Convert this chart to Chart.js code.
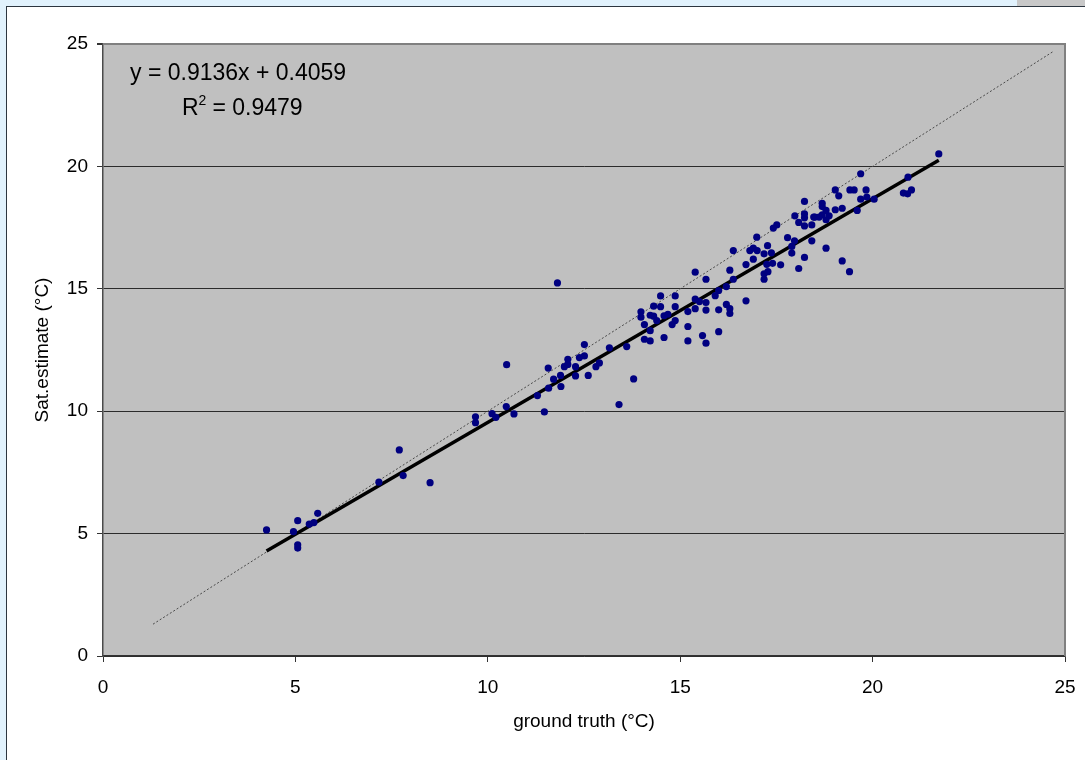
<!DOCTYPE html>
<html>
<head>
<meta charset="utf-8">
<script src="https://cdn.jsdelivr.net/npm/chart.js@4.4.1/dist/chart.umd.min.js"></script>
<style>
  html, body { margin: 0; padding: 0; }
  body { width: 1085px; height: 760px; background: #e1f2fd; position: relative; overflow: hidden; }
  #corner { position: absolute; left: 1017px; top: 0; width: 68px; height: 6px; background: #c8c8c8; }
  #panel { position: absolute; left: 6px; top: 6px; right: 0; bottom: 0; background: #ffffff;
           border-top: 1px solid #2c3640; border-left: 1px solid #2c3640; }
  #wrap { position: absolute; left: 8px; top: 8px; width: 1077px; height: 752px; }
</style>
</head>
<body>
<div id="corner"></div>
<div id="panel"></div>
<div id="wrap"><canvas id="chart"></canvas></div>
<script>
// ground truth vs satellite estimate (°C)
const groundTruth = [
  4.25, 5.06, 4.95, 5.06, 5.06, 5.36, 5.48, 5.58, 7.17, 7.70, 7.80, 8.50, 9.68, 9.68, 10.11, 10.21, 10.49, 10.48, 10.68,
  11.81, 11.47, 11.29, 11.57, 11.58, 11.71, 11.90, 11.89, 11.99, 12.08, 12.08, 12.28, 12.28, 12.38, 12.51, 12.51, 12.61,
  12.81, 12.90, 13.16, 13.41, 13.61, 13.79, 13.98, 13.98, 14.07, 14.07, 14.22, 14.22, 14.22, 14.31, 14.31, 14.39, 14.49,
  14.49, 14.58, 14.58, 14.68, 14.79, 14.87, 14.87, 14.87, 15.20, 15.20, 15.20, 15.39, 15.39, 15.39, 15.50, 15.58, 15.67,
  15.67, 15.67, 15.67, 15.91, 16.00, 16.00, 16.00, 16.20, 16.20, 16.29, 16.29, 16.29, 16.38, 16.38, 16.71, 16.71, 16.81,
  16.90, 16.90, 16.99, 17.00, 17.18, 17.18, 17.18, 17.25, 17.27, 17.28, 17.42, 17.51, 17.37, 17.40, 17.61, 17.79, 17.90,
  17.90, 17.97, 17.98, 18.08, 18.08, 18.23, 18.23, 18.23, 18.23, 18.23, 18.42, 18.42, 18.47, 18.50, 18.61, 18.69, 18.69,
  18.69, 18.79, 18.79, 18.79, 18.87, 19.03, 19.03, 19.12, 19.21, 19.21, 19.40, 19.41, 19.52, 19.60, 19.69, 19.69, 19.83,
  19.85, 20.04, 20.80, 20.91, 20.92, 21.01, 21.72
];
const satEstimate = [
  5.15, 5.53, 5.08, 4.54, 4.41, 5.39, 5.45, 5.83, 7.10, 8.42, 7.37, 7.08, 9.77, 9.53, 9.90, 9.75, 11.90, 10.19, 9.89,
  15.24, 9.97, 10.64, 11.76, 10.94, 11.31, 11.01, 11.46, 11.82, 12.12, 11.91, 11.82, 11.44, 12.19, 12.72, 12.26, 11.46,
  11.82, 11.97, 12.59, 10.27, 12.64, 11.32, 14.06, 13.84, 13.54, 12.94, 12.87, 13.29, 13.92, 14.29, 13.88, 13.70, 14.71,
  14.27, 13.90, 13.01, 13.96, 13.54, 14.71, 14.27, 13.70, 13.46, 14.07, 12.87, 15.68, 14.58, 14.19, 14.48, 13.09, 15.39,
  14.44, 14.13, 12.78, 14.72, 14.14, 13.25, 14.93, 15.09, 14.36, 15.76, 14.19, 13.99, 15.39, 16.56, 14.51, 15.99, 16.56,
  16.21, 16.66, 17.11, 16.56, 16.43, 15.61, 15.39, 16.00, 16.76, 15.70, 17.48, 17.61, 16.47, 16.04, 15.98, 17.09, 16.46,
  16.73, 16.96, 17.98, 15.83, 17.71, 18.57, 18.06, 17.90, 17.57, 16.28, 17.61, 16.96, 17.93, 17.93, 17.93, 18.49, 18.36,
  18.02, 18.20, 17.82, 16.66, 17.98, 18.23, 19.04, 18.80, 18.29, 16.14, 15.70, 19.04, 19.04, 18.20, 18.66, 19.70, 19.04,
  18.75, 18.66, 18.91, 18.88, 19.56, 19.04, 20.51
];

// linear trendline ends and the 1:1 reference line ends
const trendX = [4.25, 21.72];
const trendY = [4.29, 20.25];
const oneToOneX = [1.3, 24.7];
const oneToOneY = [1.3, 24.7];

const axisTicks = [0, 5, 10, 15, 20, 25];
const fitText = "y = 0.9136x + 0.4059";
const r2Text = "= 0.9479";

const FONT = "'Liberation Sans', Arial, sans-serif";

const plotFrame = {
    id: "plotFrame",
    beforeDraw(chart) {
        const { ctx, chartArea: a } = chart;
        ctx.save();
        ctx.fillStyle = "#c0c0c0";
        ctx.fillRect(a.left, a.top, a.right - a.left, a.bottom - a.top);
        ctx.restore();
    },
    afterDraw(chart) {
        const { ctx, chartArea: a } = chart;
        ctx.save();
        ctx.strokeStyle = "#808080";
        ctx.lineWidth = 2;
        ctx.beginPath();
        ctx.moveTo(a.left, a.top);
        ctx.lineTo(a.right, a.top);
        ctx.lineTo(a.right, a.bottom);
        ctx.stroke();

        // regression label
        ctx.fillStyle = "#000";
        ctx.textBaseline = "alphabetic";
        ctx.font = "23px " + FONT;
        ctx.fillText(fitText, a.left + 27, a.top + 36);
        let x = a.left + 79;
        ctx.fillText("R", x, a.top + 71);
        x += ctx.measureText("R").width;
        ctx.font = "14px " + FONT;
        ctx.fillText("2", x, a.top + 61);
        x += ctx.measureText("2").width + 6;
        ctx.font = "23px " + FONT;
        ctx.fillText(r2Text, x, a.top + 71);
        ctx.restore();
    }
};

new Chart(document.getElementById("chart"), {
    type: "scatter",
    data: {
        datasets: [
            {
                label: "1:1",
                type: "line",
                data: oneToOneX.map((x, i) => ({ x, y: oneToOneY[i] })),
                borderColor: "#4a4a4a",
                borderWidth: 1,
                borderDash: [2, 2],
                pointRadius: 0,
                fill: false,
                order: 3
            },
            {
                label: "Linear fit",
                type: "line",
                data: trendX.map((x, i) => ({ x, y: trendY[i] })),
                borderColor: "#000000",
                borderWidth: 3.5,
                pointRadius: 0,
                fill: false,
                order: 2
            },
            {
                label: "Sat.estimate",
                data: groundTruth.map((x, i) => ({ x, y: satEstimate[i] })),
                backgroundColor: "#000080",
                borderColor: "#000080",
                borderWidth: 0,
                pointRadius: 3.6,
                order: 1
            }
        ]
    },
    options: {
        responsive: true,
        maintainAspectRatio: false,
        animation: false,
        layout: { padding: { top: 36, right: 20, left: 0, bottom: 0 } },
        plugins: {
            legend: { display: false },
            tooltip: { enabled: false }
        },
        scales: {
            x: {
                type: "linear",
                min: 0,
                max: 25,
                afterBuildTicks: s => { s.ticks = axisTicks.map(v => ({ value: v })); },
                afterFit: s => { s.height = 104; s.paddingLeft = 0; s.paddingRight = 0; },
                grid: { drawOnChartArea: false, drawTicks: true, tickLength: 6, color: "#333", tickColor: "#333" },
                border: { color: "#333", width: 1.5 },
                ticks: { color: "#000", font: { family: FONT, size: 19 }, padding: 14, maxRotation: 0 },
                title: {
                    display: true,
                    text: "ground truth (°C)",
                    color: "#000",
                    font: { family: FONT, size: 19 },
                    padding: { top: 0, bottom: 27 }
                }
            },
            y: {
                type: "linear",
                min: 0,
                max: 25,
                afterBuildTicks: s => { s.ticks = axisTicks.map(v => ({ value: v })); },
                afterFit: s => { s.width = 95; s.paddingTop = 0; s.paddingBottom = 0; },
                grid: {
                    drawTicks: true,
                    tickLength: 6,
                    color: c => (c.tick && c.tick.value === 25 ? "#808080" : "#2b2b2b"),
                    tickColor: "#333",
                    lineWidth: c => (c.tick && c.tick.value === 25 ? 2 : 1)
                },
                border: { color: "#4a4a4a", width: 1.5 },
                ticks: { color: "#000", font: { family: FONT, size: 19 }, padding: 9 },
                title: {
                    display: true,
                    text: "Sat.estimate (°C)",
                    color: "#000",
                    font: { family: FONT, size: 19 },
                    padding: { top: 23, bottom: 0 }
                }
            }
        }
    },
    plugins: [plotFrame]
});
</script>
</body>
</html>
